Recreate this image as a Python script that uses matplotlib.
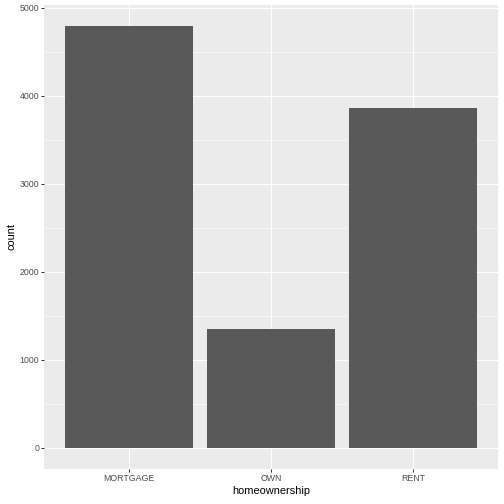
import matplotlib
matplotlib.use('Agg')
import matplotlib.pyplot as plt
import numpy as np

plt.rcParams['font.family'] = ['Liberation Sans', 'DejaVu Sans']

# counts per homeownership category
categories = ['MORTGAGE', 'OWN', 'RENT']
counts = [4789, 1353, 3858]
yticks = [0, 1000, 2000, 3000, 4000, 5000]

fig = plt.figure(figsize=(7, 7), dpi=72)
ax = fig.add_axes([44 / 504, 35 / 504, 454 / 504, 464 / 504])
ax.set_facecolor('#EBEBEB')

x = np.arange(1, len(categories) + 1)
ax.bar(x, counts, width=0.9, color='#595959', zorder=3)

# ggplot style expansion: 0.6 on discrete x, 5% on y
ax.set_xlim(0.4, 3.6)
ymax = max(counts)
ax.set_ylim(-0.05 * ymax, 1.05 * ymax)

ax.set_xticks(x)
ax.set_xticklabels(categories)
ax.set_yticks(yticks)
ax.set_yticks([500, 1500, 2500, 3500, 4500], minor=True)

ax.grid(which='major', color='white', linewidth=1.1, zorder=0)
ax.grid(which='minor', axis='y', color='white', linewidth=0.55, zorder=0)
ax.set_axisbelow(True)
for s in ax.spines.values():
    s.set_visible(False)

ax.tick_params(axis='both', which='major', length=2.75, width=1.0, color='#333333',
               labelsize=8.8, labelcolor='#4D4D4D', pad=2.2)
ax.tick_params(which='minor', length=0)

ax.set_xlabel('homeownership', fontsize=11, color='black', labelpad=3)
ax.set_ylabel('count', fontsize=11, color='black', labelpad=3)

fig.savefig('out.png', dpi=72, facecolor='white')
